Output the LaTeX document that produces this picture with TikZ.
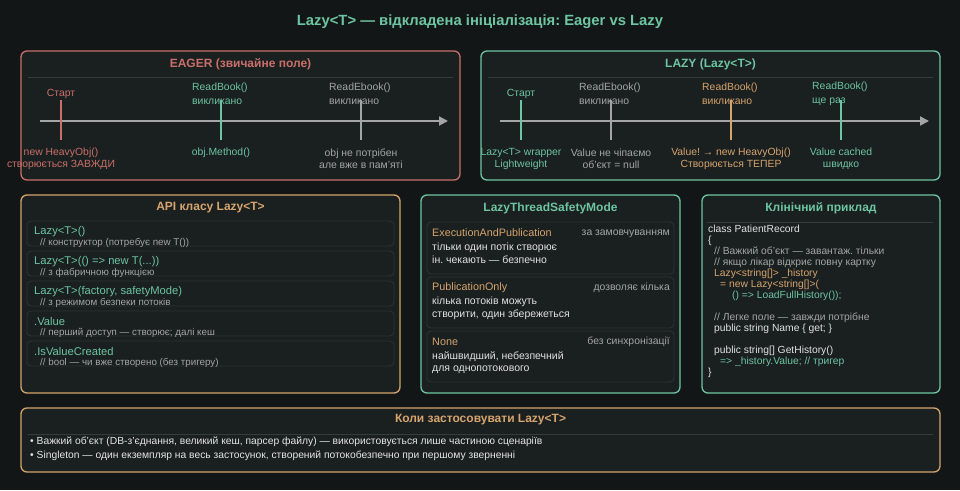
\documentclass[tikz,border=0pt]{standalone}
\usepackage{fontspec}
\setmainfont{Liberation Sans}
\usetikzlibrary{arrows.meta}
\definecolor{night}{HTML}{131616}
\definecolor{board}{HTML}{1A1F1F}
\definecolor{edge}{HTML}{2C3434}
\definecolor{rulec}{HTML}{353C3C}
\definecolor{clay}{HTML}{C9706B}
\definecolor{mint}{HTML}{6DC5A2}
\definecolor{sand}{HTML}{D6A46E}
\definecolor{ash}{HTML}{A3A6A5}
\definecolor{paper}{HTML}{E2E2E2}
\frenchspacing

\begin{document}
\begin{tikzpicture}[
  x=1pt, y=-1pt,
  panel/.style={line width=1.3pt, rounded corners=6pt, fill=board},
  head/.style={font=\fontsize{12}{14}\selectfont\bfseries, inner sep=0pt},
  sep/.style={draw=rulec, line width=0.8pt},
  axis/.style={-{Triangle[length=9pt,width=9pt]}, draw=ash, line width=1.8pt},
  tick/.style={line width=1.8pt},
  lbl/.style={font=\fontsize{10.4}{14}\selectfont, inner sep=0pt, align=left},
  sub/.style={font=\fontsize{10.4}{12}\selectfont, inner sep=0pt, align=center},
  item/.style={draw=edge, line width=0.8pt, rounded corners=4pt},
  call/.style={font=\fontsize{11.2}{13}\selectfont, inner sep=0pt, anchor=west, text=mint},
  cmt/.style={font=\fontsize{9.8}{11}\selectfont, inner sep=0pt, anchor=west, text=ash},
  mode/.style={font=\fontsize{10.8}{12}\selectfont, inner sep=0pt, anchor=west, text=sand},
  hint/.style={font=\fontsize{10.4}{11}\selectfont, inner sep=0pt, anchor=east, text=ash},
  desc/.style={font=\fontsize{10.5}{12.5}\selectfont, inner sep=0pt, anchor=north west,
               align=left, text=paper},
  code/.style={font=\fontsize{10.3}{11}\selectfont, inner sep=0pt, anchor=north west,
               align=left, text=paper},
  bullet/.style={font=\fontsize{10.3}{12}\selectfont, inner sep=0pt, anchor=west, text=paper!90},
]
\useasboundingbox[fill=night] (0,0) rectangle (960,490);

\node[font=\fontsize{14.8}{17}\selectfont\bfseries, text=mint, inner sep=0pt] (title)
  at (480,22) {Lazy<T> — відкладена ініціалізація: Eager vs Lazy};

% eager timeline
\draw[panel, draw=clay] (21,51) rectangle (460,180);
\node[head, text=clay] (eagerT) at (240.5,64) {EAGER (звичайне поле)};
\draw[sep] (28,77) -- (453,77);
\draw[axis] (40,121) -- (448,121);
\node[lbl, text=clay] (eStart) at (61,94) {Старт};
\node[lbl, text=mint, anchor=west] (eRead) at (192,94) {ReadBook()\\викликано};
\node[lbl, text=ash, anchor=west] (eEbook) at (329,94) {ReadEbook()\\викликано};
\draw[tick, draw=clay] (61,100) -- (61,140);
\draw[tick, draw=mint] (221,100) -- (221,140);
\draw[tick, draw=ash] (361,100) -- (361,140);
\node[sub, text=clay] (eNew) at (61,158.5) {new HeavyObj()\\створюється ЗАВЖДИ};
\node[sub, text=mint] (eUse) at (221,152.5) {obj.Method()};
\node[sub, text=ash] (eWaste) at (361,158.5) {obj не потрібен\\але вже в пам'яті};

% lazy timeline
\draw[panel, draw=mint] (481,51) rectangle (940,180);
\node[head, text=mint] (lazyT) at (710.5,64) {LAZY (Lazy<T>)};
\draw[sep] (488,77) -- (933,77);
\draw[axis] (500,121) -- (929,121);
\node[lbl, text=mint] (lStart) at (521,94) {Старт};
\node[lbl, text=ash, anchor=west] (lEbook) at (579,94) {ReadEbook()\\викликано};
\node[lbl, text=sand, anchor=west] (lRead) at (702,94) {ReadBook()\\викликано};
\node[lbl, text=mint, anchor=west] (lAgain) at (812,94) {ReadBook()\\ще раз};
\draw[tick, draw=mint] (521,100) -- (521,140);
\draw[tick, draw=ash] (611,100) -- (611,140);
\draw[tick, draw=sand] (731,100) -- (731,140);
\draw[tick, draw=mint] (841,100) -- (841,140);
\node[sub, text=mint] (lWrap) at (521,158.5) {Lazy<T> wrapper\\Lightweight};
\node[sub, text=ash] (lNull) at (611,158.5) {Value не чіпаємо\\об'єкт = null};
\node[sub, text=sand] (lNew) at (731,158.5) {Value! → new HeavyObj()\\Створюється ТЕПЕР};
\node[sub, text=mint] (lCache) at (841,158.5) {Value cached\\швидко};

% API
\draw[panel, draw=sand] (21,195) rectangle (400,393);
\node[head, text=sand] (apiT) at (210.5,208) {API класу Lazy<T>};
\draw[item] (27,221) rectangle (394,246);
\draw[item] (27,251) rectangle (394,276);
\draw[item] (27,281) rectangle (394,306);
\draw[item] (27,311) rectangle (394,336);
\draw[item] (27,341) rectangle (394,366);
\node[call] (ctor) at (34,231.5) {Lazy<T>()};
\node[cmt] (ctorC) at (40,243) {// конструктор (потребує new T())};
\node[call] (fact) at (34,261.5) {Lazy<T>(() => new T(...))};
\node[cmt] (factC) at (40,273) {// з фабричною функцією};
\node[call] (safe) at (34,291.5) {Lazy<T>(factory, safetyMode)};
\node[cmt] (safeC) at (40,303) {// з режимом безпеки потоків};
\node[call] (val) at (34,321.5) {.Value};
\node[cmt] (valC) at (40,333) {// перший доступ — створює; далі кеш};
\node[call] (made) at (34,351.5) {.IsValueCreated};
\node[cmt] (madeC) at (40,363) {// bool — чи вже створено (без тригеру)};

% thread safety modes
\draw[panel, draw=mint] (421,195) rectangle (680,393);
\node[head, text=mint] (modeT) at (550.5,208) {LazyThreadSafetyMode};
\draw[item] (427,222) rectangle (674,274);
\draw[item] (427,277) rectangle (674,328);
\draw[item] (427,331) rectangle (674,382);
\node[mode] (exec) at (432,233) {ExecutionAndPublication};
\node[hint] (execH) at (670,233.5) {за замовчуванням};
\node[desc] (execD) at (432,243) {тільки один потік створює\\ін. чекають — безпечно};
\node[mode] (pub) at (432,288) {PublicationOnly};
\node[hint] (pubH) at (670,288) {дозволяє кілька};
\node[desc] (pubD) at (432,297) {кілька потоків можуть\\створити, один збережеться};
\node[mode] (none) at (432,342) {None};
\node[hint] (noneH) at (670,342) {без синхронізації};
\node[desc] (noneD) at (432,351) {найшвидший, небезпечний\\для однопотокового};

% clinical example
\draw[panel, draw=mint] (702,195) rectangle (940,393);
\node[head, text=mint] (clinT) at (821,208) {Клінічний приклад};
\draw[sep] (707,222) -- (933,222);
\node[code] (src) at (708,225) {class PatientRecord\\
  \{\\
  \hspace*{6pt}\textcolor{ash}{// Важкий об'єкт — завантаж. тільки}\\
  \hspace*{6pt}\textcolor{ash}{// якщо лікар відкриє повну картку}\\
  \hspace*{6pt}\textcolor{sand}{Lazy<string[]> \_history}\\
  \hspace*{12pt}\textcolor{sand}{= new Lazy<string[]>(}\\
  \hspace*{24pt}\textcolor{mint}{() => LoadFullHistory());}\\
  \mbox{}\\
  \hspace*{6pt}\textcolor{ash}{// Легке поле — завжди потрібне}\\
  \hspace*{6pt}public string Name \{ get; \}\\
  \mbox{}\\
  \hspace*{6pt}public string[] GetHistory()\\
  \hspace*{12pt}\textcolor{mint}{=> \_history.Value; // тригер}\\
  \}};

% when to use
\draw[panel, draw=sand] (21,408) rectangle (940,472);
\node[head, font=\fontsize{12}{14}\selectfont\bfseries, text=sand] (useT) at (480.5,420)
  {Коли застосовувати Lazy<T>};
\draw[sep] (28,434) -- (933,434);
\node[bullet] (useA) at (30,442)
  {• Важкий об'єкт (DB-з'єднання, великий кеш, парсер файлу) — використовується лише частиною сценаріїв};
\node[bullet] (useB) at (30,455.5)
  {• Singleton — один екземпляр на весь застосунок, створений потокобезпечно при першому зверненні};
\end{tikzpicture}
\end{document}
